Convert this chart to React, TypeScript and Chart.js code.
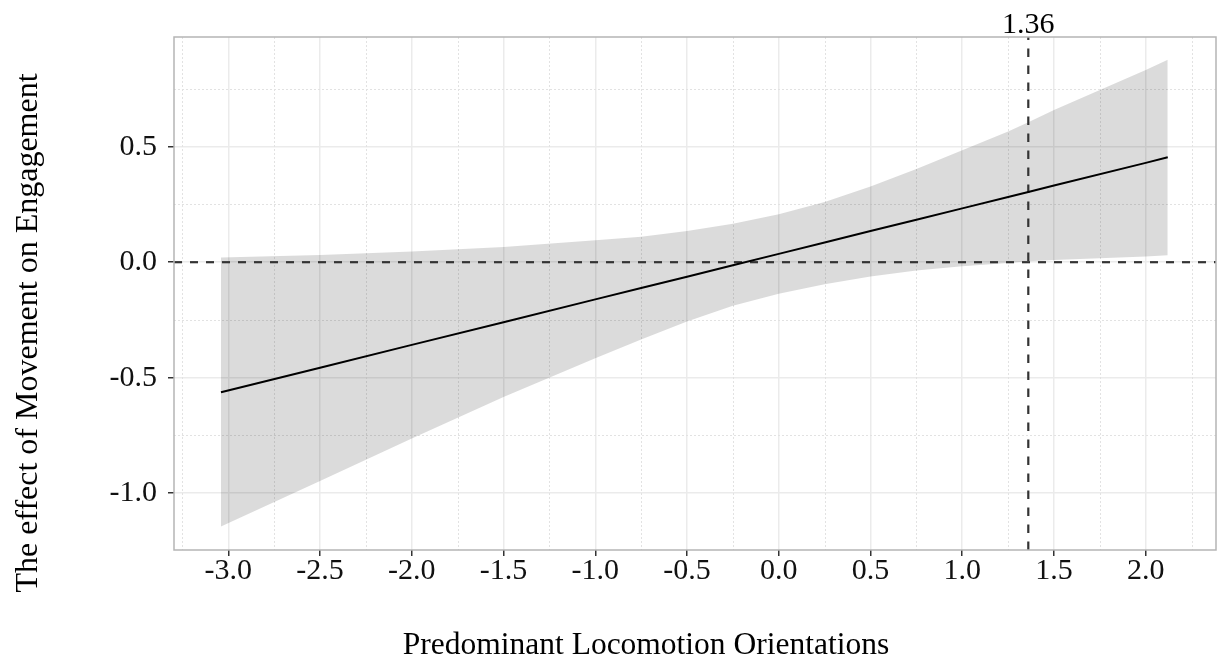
import React, { useEffect, useRef } from "react";
import { Chart, registerables } from "chart.js";

Chart.register(...registerables);

// ---- data ----
const X_VALUES = [-3.04, -2.5, -2.0, -1.5, -1.0, -0.75, -0.5, -0.25, 0.0, 0.25, 0.5, 0.75, 1.0, 1.25, 1.36, 1.5, 2.0, 2.12];
const UPPER = [0.02, 0.031, 0.046, 0.066, 0.095, 0.11, 0.135, 0.166, 0.208, 0.261, 0.328, 0.403, 0.485, 0.566, 0.606, 0.659, 0.832, 0.876];
const LOWER = [-1.144, -0.947, -0.763, -0.584, -0.416, -0.335, -0.257, -0.189, -0.137, -0.095, -0.062, -0.036, -0.017, -0.003, 0.004, 0.01, 0.025, 0.03];
const EFFECT = [-0.563, -0.457, -0.358, -0.26, -0.161, -0.112, -0.063, -0.013, 0.036, 0.085, 0.135, 0.184, 0.233, 0.282, 0.304, 0.332, 0.43, 0.454];

const X_TICKS = [-3.0, -2.5, -2.0, -1.5, -1.0, -0.5, 0.0, 0.5, 1.0, 1.5, 2.0];
const X_MINOR = [-3.25, -2.75, -2.25, -1.75, -1.25, -0.75, -0.25, 0.25, 0.75, 1.25, 1.75, 2.25];
const Y_TICKS = [-1.0, -0.5, 0.0, 0.5];
const Y_MINOR = [-0.75, -0.25, 0.25, 0.75];

const X_MIN = -3.296;
const X_MAX = 2.383;
const Y_MIN = -1.246;
const Y_MAX = 0.975;

const CROSS_X = 1.36;
const CROSS_LABEL = "1.36";
const ZERO_Y = 0;

const X_TITLE = "Predominant Locomotion Orientations";
const Y_TITLE = "The effect of Movement on Engagement";

const FONT = "'Liberation Serif', 'Times New Roman', serif";

const decorPlugin = {
  id: "decor",
  beforeDatasetsDraw(chart: any) {
    const { ctx, chartArea, scales } = chart;
    const { left, right, top, bottom } = chartArea;
    ctx.save();
    ctx.strokeStyle = "#E2E2E2";
    ctx.lineWidth = 1;
    ctx.setLineDash([2, 2]);
    for (const v of X_MINOR) {
      const px = Math.round(scales.x.getPixelForValue(v)) + 0.5;
      if (px < left || px > right) continue;
      ctx.beginPath();
      ctx.moveTo(px, top);
      ctx.lineTo(px, bottom);
      ctx.stroke();
    }
    for (const v of Y_MINOR) {
      const py = Math.round(scales.y.getPixelForValue(v)) + 0.5;
      if (py < top || py > bottom) continue;
      ctx.beginPath();
      ctx.moveTo(left, py);
      ctx.lineTo(right, py);
      ctx.stroke();
    }
    ctx.restore();
  },
  afterDatasetsDraw(chart: any) {
    const { ctx, chartArea } = chart;
    const { left, right, top, bottom } = chartArea;
    ctx.save();
    ctx.strokeStyle = "#B5B5B5";
    ctx.lineWidth = 1.5;
    ctx.strokeRect(left, top, right - left, bottom - top);
    ctx.restore();
  },
  afterDraw(chart: any) {
    const { ctx, scales, chartArea } = chart;
    ctx.save();
    ctx.fillStyle = "#000";
    // annotation label above panel
    ctx.font = `30px ${FONT}`;
    ctx.textAlign = "center";
    ctx.textBaseline = "alphabetic";
    ctx.fillText(CROSS_LABEL, scales.x.getPixelForValue(CROSS_X), chartArea.top - 4);
    // x title
    ctx.font = `31.5px ${FONT}`;
    ctx.fillText(X_TITLE, 646, 654);
    // y title
    ctx.font = `32px ${FONT}`;
    ctx.translate(37, 333);
    ctx.rotate(-Math.PI / 2);
    ctx.fillText(Y_TITLE, 0, 0);
    ctx.restore();
  },
};

export default function App() {
  const ref = useRef<HTMLCanvasElement | null>(null);

  useEffect(() => {
    if (!ref.current) return;
    const band = X_VALUES.map((x, i) => ({ x, y: UPPER[i] }));
    const bandLow = X_VALUES.map((x, i) => ({ x, y: LOWER[i] }));
    const line = X_VALUES.map((x, i) => ({ x, y: EFFECT[i] }));

    const chart = new Chart(ref.current, {
      type: "line",
      data: {
        datasets: [
          {
            label: "effect",
            data: line,
            borderColor: "#000",
            borderWidth: 2,
            pointRadius: 0,
            fill: false,
            order: 0,
          },
          {
            label: "zero",
            data: [
              { x: X_MIN, y: ZERO_Y },
              { x: X_MAX, y: ZERO_Y },
            ],
            borderColor: "#333",
            borderWidth: 2.2,
            borderDash: [8, 8],
            pointRadius: 0,
            fill: false,
            order: 1,
          },
          {
            label: "cross",
            data: [
              { x: CROSS_X, y: Y_MIN },
              { x: CROSS_X, y: Y_MAX },
            ],
            borderColor: "#333",
            borderWidth: 2.2,
            borderDash: [8.5, 8.5],
            pointRadius: 0,
            fill: false,
            order: 1,
          },
          {
            label: "upper",
            data: band,
            borderWidth: 0,
            borderColor: "rgba(0,0,0,0)",
            backgroundColor: "rgba(0,0,0,0.14)",
            pointRadius: 0,
            fill: 4,
            order: 2,
          },
          {
            label: "lower",
            data: bandLow,
            borderWidth: 0,
            borderColor: "rgba(0,0,0,0)",
            pointRadius: 0,
            fill: false,
            order: 3,
          },
        ],
      },
      options: {
        responsive: false,
        animation: false,
        layout: { padding: { top: 37, right: 2, left: 0, bottom: 0 } },
        plugins: {
          legend: { display: false },
          tooltip: { enabled: false },
        },
        elements: { line: { tension: 0 } },
        scales: {
          x: {
            type: "linear",
            min: X_MIN,
            max: X_MAX,
            afterBuildTicks: (s: any) => {
              s.ticks = X_TICKS.map((v) => ({ value: v }));
            },
            afterFit: (s: any) => {
              s.height = 111;
              s.paddingLeft = 0;
              s.paddingRight = 0;
            },
            border: { display: false },
            grid: {
              color: "#EBEBEB",
              lineWidth: 1.5,
              tickColor: "#333",
              tickLength: 6,
              tickWidth: 1.5,
            },
            ticks: {
              padding: 0,
              color: "#111",
              maxRotation: 0,
              autoSkip: false,
              font: { family: FONT, size: 30, lineHeight: 1 },
              callback: (v: any) => Number(v).toFixed(1),
            },
          },
          y: {
            type: "linear",
            min: Y_MIN,
            max: Y_MAX,
            afterBuildTicks: (s: any) => {
              s.ticks = Y_TICKS.map((v) => ({ value: v }));
            },
            afterFit: (s: any) => {
              s.width = 174;
              s.paddingTop = 0;
              s.paddingBottom = 0;
            },
            border: { display: false },
            grid: {
              color: "#EBEBEB",
              lineWidth: 1.5,
              tickColor: "#333",
              tickLength: 6,
              tickWidth: 1.5,
            },
            ticks: {
              padding: 11,
              color: "#111",
              autoSkip: false,
              font: { family: FONT, size: 30, lineHeight: 1 },
              callback: (v: any) => Number(v).toFixed(1),
            },
          },
        },
      },
      plugins: [decorPlugin],
    } as any);

    return () => chart.destroy();
  }, []);

  return (
    <div style={{ position: "absolute", left: 0, top: 0, width: 1218, height: 661, background: "#fff" }}>
      <canvas ref={ref} width={1218} height={661} style={{ display: "block" }} />
    </div>
  );
}
